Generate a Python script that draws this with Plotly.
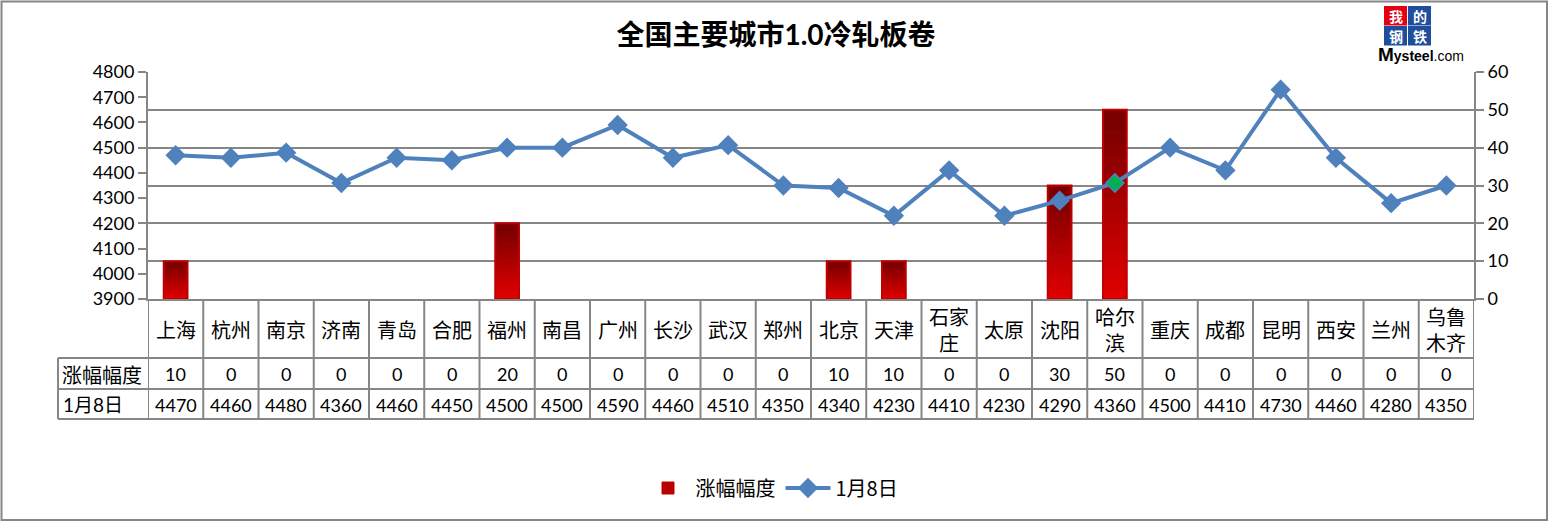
import plotly.graph_objects as go

# ---------------- data ----------------
cities = ["上海", "杭州", "南京", "济南", "青岛", "合肥", "福州", "南昌", "广州", "长沙",
          "武汉", "郑州", "北京", "天津", "石家庄", "太原", "沈阳", "哈尔滨", "重庆", "成都",
          "昆明", "西安", "兰州", "乌鲁木齐"]
change = [10, 0, 0, 0, 0, 0, 20, 0, 0, 0, 0, 0, 10, 10, 0, 0, 30, 50, 0, 0, 0, 0, 0, 0]
price = [4470, 4460, 4480, 4360, 4460, 4450, 4500, 4500, 4590, 4460, 4510, 4350, 4340,
         4230, 4410, 4230, 4290, 4360, 4500, 4410, 4730, 4460, 4280, 4350]
bar_name = "涨幅幅度"
line_name = "1月8日"
title_text = "全国主要城市1.0冷轧板卷"
highlight_city = "哈尔滨"
left_ticks = [3900, 4000, 4100, 4200, 4300, 4400, 4500, 4600, 4700, 4800]
right_ticks = [0, 10, 20, 30, 40, 50, 60]

# ---------------- layout geometry ----------------
W, H = 1549, 522
L, R, T, B = 148, 1474, 72, 299
GRID = "#868686"
FONT = "Lato, 'Noto Sans CJK SC', sans-serif"
CJK = "'Noto Sans CJK SC', sans-serif"


def px(X):
    return (X - L) / (R - L)


def py(Y):
    return (B - Y) / (B - T)


n = len(cities)
xs = list(range(n))

fig = go.Figure()

# gradient bars built as stacked slices of each bar (dark top, bright bottom)
NSEG = 14
top_rgb = (122, 0, 0)
bot_rgb = (226, 0, 0)
for s in range(NSEG):
    t = s / (NSEG - 1)
    c = tuple(int(round(bot_rgb[k] + (top_rgb[k] - bot_rgb[k]) * t)) for k in range(3))
    lo = max(s - 0.5, 0) / NSEG
    hi = (s + 1) / NSEG
    fig.add_trace(go.Bar(
        x=xs, y=[v * (hi - lo) for v in change], base=[v * lo for v in change],
        marker=dict(color="rgb(%d,%d,%d)" % c, line=dict(width=0)),
        width=0.43, showlegend=False, hoverinfo="skip", yaxis="y"))
# outline
fig.add_trace(go.Bar(
    x=xs, y=[v if v else None for v in change],
    marker=dict(color="rgba(0,0,0,0)", line=dict(color="#c00000", width=2)),
    width=0.43, showlegend=False, hoverinfo="skip", yaxis="y"))
# legend entry for bars
fig.add_trace(go.Bar(
    x=[None], y=[None], name=bar_name,
    marker=dict(color="#b80000", line=dict(color="#c00000", width=1)),
    yaxis="y"))

marker_colors = ["#00b050" if c == highlight_city else "#4f81bd" for c in cities]
fig.add_trace(go.Scatter(
    x=xs, y=price, name=line_name, mode="lines+markers", yaxis="y2",
    line=dict(color="#4f81bd", width=4),
    marker=dict(symbol="diamond", size=14, color=marker_colors,
                line=dict(color="#4f81bd", width=1.5))))

shapes = []
annotations = []


def ann(text, X, Y, size, family=CJK, xanchor="center", color="black"):
    annotations.append(dict(text=text, xref="paper", yref="paper", x=px(X), y=py(Y),
                            xanchor=xanchor, yanchor="middle", showarrow=False,
                            font=dict(family=family, size=size, color=color)))


# table lines
for i in range(n + 1):
    shapes.append(dict(type="line", xref="x", yref="paper", x0=i - 0.5, x1=i - 0.5,
                       y0=py(B), y1=py(419), line=dict(color=GRID, width=2)))
shapes.append(dict(type="line", xref="paper", yref="paper", x0=px(58), x1=px(58),
                   y0=py(358), y1=py(419), line=dict(color=GRID, width=2)))
for Y in (358, 389, 419):
    shapes.append(dict(type="line", xref="paper", yref="paper", x0=px(58), x1=px(R),
                       y0=py(Y), y1=py(Y), line=dict(color=GRID, width=2)))

# outer border
shapes.append(dict(type="rect", xref="paper", yref="paper", x0=px(1.5), x1=px(1547),
                   y0=py(1.5), y1=py(520), line=dict(color=GRID, width=2)))

# logo
logo = [("我", 1384, 6, "#e60012"), ("的", 1408, 6, "#1f4e9c"),
        ("钢", 1384, 26, "#1f4e9c"), ("铁", 1408, 26, "#1f4e9c")]
for ch, X0, Y0, col in logo:
    shapes.append(dict(type="rect", xref="paper", yref="paper", x0=px(X0), x1=px(X0 + 23),
                       y0=py(Y0), y1=py(Y0 + 19.5), line=dict(width=0), fillcolor=col))
    ann("<b>%s</b>" % ch, X0 + 11.5, Y0 + 10, 14, color="white")
ann("<b><span style='font-size:19px'>M</span>ysteel</b>.com", 1421, 54, 14,
    family="'Liberation Sans', Arial, sans-serif")

# category labels and table values
for i, c in enumerate(cities):
    label = c if len(c) <= 2 else c[:2] + "<br>" + c[2:]
    annotations.append(dict(text=label, xref="x", yref="paper", x=i, y=py(329),
                            showarrow=False, xanchor="center", yanchor="middle",
                            font=dict(family=CJK, size=20, color="black")))
    annotations.append(dict(text=str(change[i]), xref="x", yref="paper", x=i, y=py(374),
                            showarrow=False, xanchor="center", yanchor="middle",
                            font=dict(family=FONT, size=18, color="black")))
    annotations.append(dict(text=str(price[i]), xref="x", yref="paper", x=i, y=py(404.5),
                            showarrow=False, xanchor="center", yanchor="middle",
                            font=dict(family=FONT, size=18, color="black")))
ann(bar_name, 60, 374, 20, xanchor="left")
ann(line_name, 61, 404.5, 19, family=FONT, xanchor="left")

fig.update_layout(
    width=W, height=H,
    margin=dict(l=L, r=W - R, t=T, b=H - B, pad=0),
    paper_bgcolor="white", plot_bgcolor="white",
    barmode="overlay",
    title=dict(text="<b>" + title_text + "</b>", xref="container", yref="container",
               x=776 / W, y=1 - 35 / H, xanchor="center", yanchor="middle",
               font=dict(family=FONT, size=28, color="black")),
    xaxis=dict(range=[-0.5, n - 0.5], showticklabels=False, showgrid=False, zeroline=False,
               showline=True, linecolor=GRID, linewidth=2, ticks=""),
    yaxis=dict(range=[0, 60], side="right", tickvals=right_ticks, showgrid=True,
               gridcolor=GRID, gridwidth=2, zeroline=False, showline=True,
               linecolor=GRID, linewidth=2, ticks="outside", ticklen=8, tickcolor=GRID,
               tickwidth=2, tickfont=dict(family=FONT, size=18, color="black")),
    yaxis2=dict(range=[3900, 4800], side="left", overlaying="y", tickvals=left_ticks,
                showgrid=False, zeroline=False, showline=True, linecolor=GRID, linewidth=2,
                ticks="outside", ticklen=8, tickcolor=GRID, tickwidth=2,
                tickfont=dict(family=FONT, size=18, color="black")),
    legend=dict(orientation="h", x=px(772), y=py(488), xanchor="center", yanchor="middle",
                font=dict(family=CJK, size=20, color="black"), bgcolor="rgba(0,0,0,0)",
                traceorder="normal", itemwidth=45),
    shapes=shapes,
    annotations=annotations,
)

fig.write_html("out.html", config={"displayModeBar": False},
               post_script="document.body.style.margin='0';document.body.style.padding='0';")
